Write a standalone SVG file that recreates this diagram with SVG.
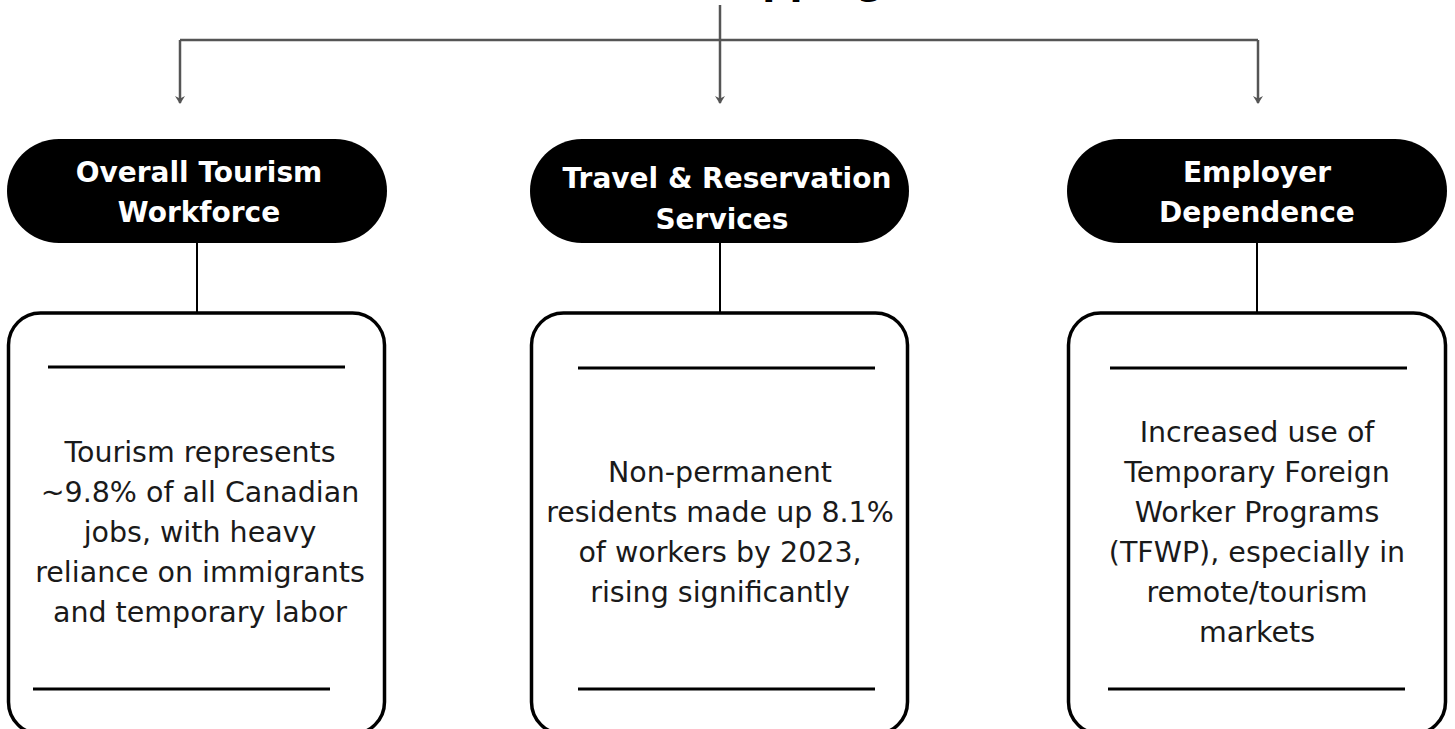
<svg xmlns="http://www.w3.org/2000/svg" width="1455" height="729" viewBox="0 0 1455 729">
  <style>
    .pill { fill: #000; }
    .head { font-family: "DejaVu Sans", Inter, sans-serif; font-weight: 700; font-size: 28px; fill: #fff; text-anchor: middle; }
    .title { font-family: "DejaVu Sans", Inter, sans-serif; font-weight: 700; font-size: 38px; fill: #000; text-anchor: end; }
    .card { fill: #fff; stroke: #000; stroke-width: 3.5; }
    .rule { stroke: #000; stroke-width: 3; }
    .body { font-family: "DejaVu Sans", Inter, sans-serif; font-size: 28.5px; fill: #1a1a1a; text-anchor: middle; }
    .stem { stroke: #000; stroke-width: 2; fill: none; }
    .wire { stroke: #555; stroke-width: 2.5; fill: none; }
  </style>
  <defs>
    <marker id="tip" viewBox="0 0 8 10" refX="7" refY="5" markerWidth="8" markerHeight="10" markerUnits="userSpaceOnUse" orient="auto">
      <path d="M0,0 L8,5 L0,10 L2.5,5 Z" fill="#555"/>
    </marker>
  </defs>

  <rect width="1455" height="729" fill="#fff"/>

  <!-- heading, mostly above the top edge -->
  <text class="title" x="884" y="-6">Mapping</text>

  <!-- branch lines from the heading -->
  <g id="connectors">
    <line class="wire" x1="720" y1="5" x2="720" y2="40"/>
    <line class="wire" x1="180" y1="40" x2="1258" y2="40"/>
    <path class="wire" d="M180,40 V103" marker-end="url(#tip)"/>
    <path class="wire" d="M720,40 V103" marker-end="url(#tip)"/>
    <path class="wire" d="M1258,40 V103" marker-end="url(#tip)"/>
    <line class="stem" x1="197" y1="243" x2="197" y2="313"/>
    <line class="stem" x1="720" y1="243" x2="720" y2="313"/>
    <line class="stem" x1="1257" y1="243" x2="1257" y2="313"/>
  </g>

  <g id="workforce">
    <rect class="pill" x="7" y="139" width="380" height="104" rx="52"/>
    <text class="head" x="199" y="182">Overall Tourism</text>
    <text class="head" x="199" y="222">Workforce</text>
    <rect class="card" x="8.5" y="313" width="376" height="421" rx="32"/>
    <line class="rule" x1="48" y1="367" x2="345" y2="367"/>
    <line class="rule" x1="33" y1="689" x2="330" y2="689"/>
    <text class="body" x="200" y="462">Tourism represents</text>
    <text class="body" x="200" y="502">~9.8% of all Canadian</text>
    <text class="body" x="200" y="542">jobs, with heavy</text>
    <text class="body" x="200" y="582">reliance on immigrants</text>
    <text class="body" x="200" y="622">and temporary labor</text>
  </g>

  <g id="travel">
    <rect class="pill" x="530" y="139" width="379" height="104" rx="52"/>
    <text class="head" x="727" y="188">Travel &amp; Reservation</text>
    <text class="head" x="722" y="229">Services</text>
    <rect class="card" x="531.5" y="313" width="376" height="421" rx="32"/>
    <line class="rule" x1="578" y1="368" x2="875" y2="368"/>
    <line class="rule" x1="578" y1="689" x2="875" y2="689"/>
    <text class="body" x="720" y="482">Non-permanent</text>
    <text class="body" x="720" y="522">residents made up 8.1%</text>
    <text class="body" x="720" y="562">of workers by 2023,</text>
    <text class="body" x="720" y="602">rising significantly</text>
  </g>

  <g id="employer">
    <rect class="pill" x="1067" y="139" width="380" height="104" rx="52"/>
    <text class="head" x="1257" y="182">Employer</text>
    <text class="head" x="1257" y="222">Dependence</text>
    <rect class="card" x="1068.5" y="313" width="377" height="421" rx="32"/>
    <line class="rule" x1="1110" y1="368" x2="1407" y2="368"/>
    <line class="rule" x1="1108" y1="689" x2="1405" y2="689"/>
    <text class="body" x="1257" y="442">Increased use of</text>
    <text class="body" x="1257" y="482">Temporary Foreign</text>
    <text class="body" x="1257" y="522">Worker Programs</text>
    <text class="body" x="1257" y="562">(TFWP), especially in</text>
    <text class="body" x="1257" y="602">remote/tourism</text>
    <text class="body" x="1257" y="642">markets</text>
  </g>
</svg>
